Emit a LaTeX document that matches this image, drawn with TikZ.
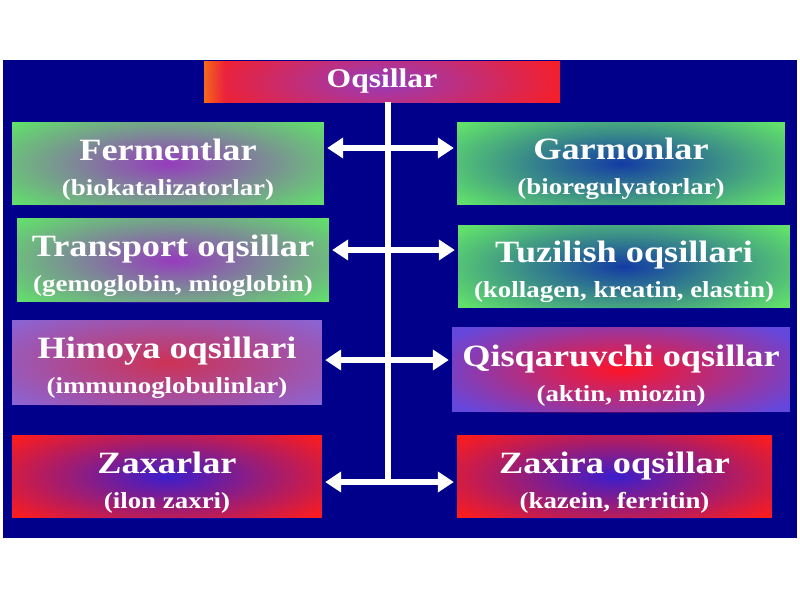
\documentclass[tikz,border=0pt]{standalone}
\usepackage{fontspec}
\setmainfont{Liberation Serif}[FakeStretch=1.17]
\usepackage{xcolor}
\usetikzlibrary{arrows.meta,fadings}

\definecolor{slideblue}{RGB}{0,0,138}
\definecolor{boxgreen}{RGB}{98,224,108}
\definecolor{boxlilac}{RGB}{140,100,212}
\definecolor{boxviolet}{RGB}{100,72,222}
\definecolor{boxred}{RGB}{255,28,28}
\definecolor{titleorange}{RGB}{255,110,10}
\definecolor{glowpurple}{RGB}{150,60,190}
\definecolor{glowblue}{RGB}{20,60,165}
\definecolor{glowrose}{RGB}{205,50,85}
\definecolor{glowred}{RGB}{255,20,40}
\definecolor{glowindigo}{RGB}{60,30,205}

\tikzfading[name=glowfade, inner color=transparent!0, outer color=transparent!100]
\pgfdeclarehorizontalshading{titleshade}{100bp}{color(0bp)=(titleorange); color(25bp)=(titleorange); color(28bp)=(boxred); color(100bp)=(boxred)}

\newcommand{\hd}[1]{{\fontsize{31}{35}\selectfont\rule{0pt}{33pt}#1}}

\tikzset{
  box/.style={inner sep=0pt, text=white, align=center,
    font=\bfseries\fontsize{23}{35}\selectfont},
  glow/.style={path picture={\fill[#1, path fading=glowfade]
    (path picture bounding box.center) ellipse (200pt and 62pt);}},
  trunk/.style={white, line width=5.5pt},
  arr/.style={white, line width=5.5pt, shorten <=3pt, shorten >=3pt,
    {Triangle[width=20pt,length=16pt]}-{Triangle[width=20pt,length=16pt]}}
}

\begin{document}
\begin{tikzpicture}[x=1pt,y=-1pt]
  \fill[white] (0,0) rectangle (800,600);
  \useasboundingbox (0,0) rectangle (800,600);
  \fill[slideblue] (3,60) rectangle (797,538);

  % title
  \node[box, shading=titleshade, glow=glowpurple, minimum width=356pt, minimum height=41pt,
    font=\bfseries\fontsize{27}{30}\selectfont] (top) at (382,81.5) {Oqsillar};

  % left column
  \node[box, fill=boxgreen, glow=glowpurple, minimum width=312pt, minimum height=83pt]
    (ferm) at (168,163.5) {\hd{Fermentlar}\\ (biokatalizatorlar)};
  \node[box, fill=boxgreen, glow=glowpurple, minimum width=312pt, minimum height=84pt]
    (trans) at (173,260) {\hd{Transport oqsillar}\\ (gemoglobin, mioglobin)};
  \node[box, fill=boxlilac, glow=glowrose, minimum width=310pt, minimum height=85pt]
    (him) at (167,362.5) {\hd{Himoya oqsillari}\\ (immunoglobulinlar)};
  \node[box, fill=boxred, glow=glowindigo, minimum width=310pt, minimum height=83pt]
    (zaxar) at (167,476.5) {\hd{Zaxarlar}\\ (ilon zaxri)};

  % right column
  \node[box, fill=boxgreen, glow=glowblue, minimum width=328pt, minimum height=83pt]
    (garm) at (621,163.5) {\hd{Garmonlar}\\ (bioregulyatorlar)};
  \node[box, fill=boxgreen, glow=glowblue, minimum width=332pt, minimum height=83pt]
    (tuz) at (624,266.5) {\hd{Tuzilish oqsillari}\\ (kollagen, kreatin, elastin)};
  \node[box, fill=boxviolet, glow=glowred, minimum width=338pt, minimum height=85pt]
    (qis) at (621,369.5) {\hd{Qisqaruvchi oqsillar}\\ (aktin, miozin)};
  \node[box, fill=boxred, glow=glowindigo, minimum width=315pt, minimum height=83pt]
    (zaxira) at (614.5,476.5) {\hd{Zaxira oqsillar}\\ (kazein, ferritin)};

  % connectors
  \coordinate (r1) at (388,148);
  \coordinate (r2) at (388,250);
  \coordinate (r3) at (388,360);
  \coordinate (r4) at (388,482);
  \draw[trunk] (top.south -| r1) -- (r4);
  \draw[arr] (ferm.east |- r1) -- (garm.west |- r1);
  \draw[arr] (trans.east |- r2) -- (tuz.west |- r2);
  \draw[arr] (him.east |- r3) -- (qis.west |- r3);
  \draw[arr] (zaxar.east |- r4) -- (zaxira.west |- r4);
\end{tikzpicture}
\end{document}
